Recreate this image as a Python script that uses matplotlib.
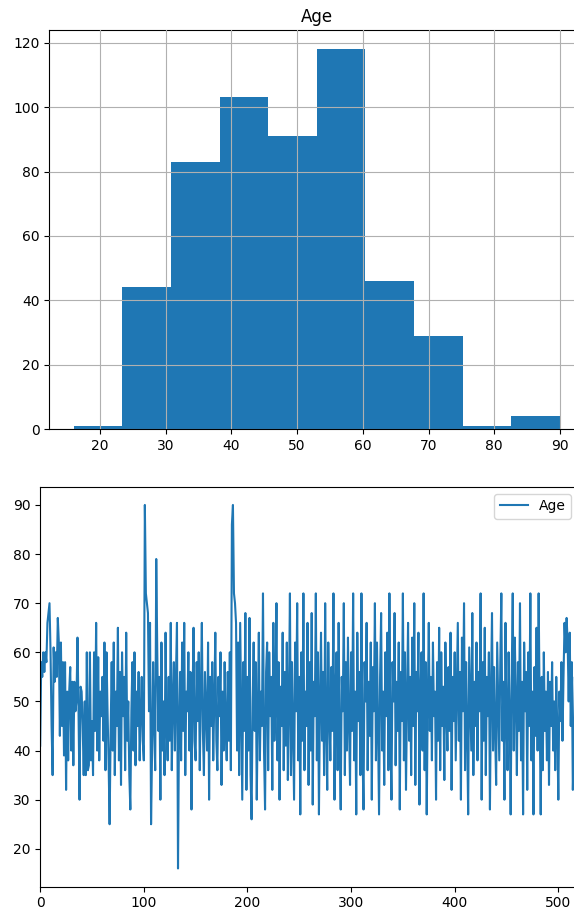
import numpy as np
import matplotlib
matplotlib.use("Agg")
import matplotlib.pyplot as plt

# histogram of Age (10 bins between min and max)
age_min, age_max = 16, 90
hist_counts = [1, 44, 83, 103, 91, 118, 46, 29, 1, 4]

# Age values by row index
age_series = [
    41, 58, 55, 60, 56, 60, 58, 66, 68, 70, 60, 45, 35, 61, 54, 60, 55, 67, 62, 43,
    62, 45, 58, 39, 58, 32, 52, 38, 52, 57, 40, 54, 37, 54, 48, 50, 63, 48, 30, 53,
    52, 45, 35, 50, 35, 60, 36, 37, 60, 38, 46, 35, 60, 44, 66, 40, 59, 38, 52, 47,
    55, 42, 62, 36, 60, 48, 38, 25, 44, 58, 40, 62, 35, 52, 45, 65, 38, 56, 33, 60,
    47, 55, 36, 64, 42, 50, 35, 28, 48, 58, 40, 60, 37, 52, 45, 56, 38, 48, 55, 42,
    38, 90, 72, 70, 68, 48, 66, 25, 40, 58, 45, 36, 79, 60, 44, 55, 30, 62, 40, 50,
    35, 64, 45, 38, 55, 42, 66, 36, 50, 58, 40, 55, 66, 16, 45, 56, 38, 62, 44, 66,
    35, 52, 48, 60, 40, 56, 28, 50, 65, 42, 38, 58, 46, 60, 36, 52, 66, 44, 35, 56,
    48, 40, 62, 30, 55, 45, 58, 38, 50, 64, 42, 36, 55, 47, 60, 33, 52, 40, 58, 45,
    38, 56, 42, 60, 36, 86, 90, 72, 70, 66, 40, 62, 35, 66, 48, 30, 58, 44, 68, 32,
    55, 40, 67, 35, 26, 50, 62, 44, 58, 30, 48, 64, 38, 52, 45, 72, 40, 28, 56, 62,
    36, 60, 47, 55, 32, 66, 42, 50, 70, 38, 58, 30, 53, 45, 64, 36, 56, 41, 62, 34,
    50, 72, 35, 58, 44, 30, 62, 48, 70, 38, 55, 27, 60, 42, 72, 36, 52, 45, 66, 33,
    58, 40, 68, 29, 54, 47, 72, 38, 60, 27, 50, 64, 42, 56, 35, 70, 45, 32, 62, 48,
    38, 57, 44, 72, 30, 52, 60, 36, 66, 42, 28, 55, 48, 70, 35, 58, 40, 63, 46, 33,
    60, 44, 72, 38, 52, 27, 64, 46, 56, 35, 72, 40, 28, 58, 50, 66, 36, 54, 43, 62,
    30, 57, 48, 70, 38, 62, 45, 27, 55, 68, 40, 52, 33, 60, 47, 64, 36, 72, 42, 30,
    58, 50, 68, 37, 54, 44, 62, 28, 56, 46, 72, 38, 60, 32, 50, 66, 42, 55, 35, 63,
    45, 70, 33, 56, 48, 64, 29, 52, 60, 40, 72, 36, 58, 27, 50, 66, 44, 55, 38, 62,
    47, 52, 30, 58, 42, 65, 36, 60, 45, 53, 34, 62, 48, 40, 57, 44, 64, 32, 55, 46,
    60, 38, 52, 66, 42, 56, 30, 63, 48, 70, 36, 58, 44, 27, 61, 50, 40, 68, 35, 54,
    45, 62, 38, 56, 48, 72, 30, 58, 42, 65, 35, 55, 47, 60, 28, 52, 68, 40, 57, 44,
    33, 62, 50, 38, 58, 72, 42, 54, 30, 66, 46, 36, 60, 48, 27, 55, 72, 40, 63, 50,
    35, 58, 44, 70, 38, 54, 27, 62, 48, 56, 32, 60, 45, 72, 38, 52, 27, 57, 43, 65,
    40, 72, 48, 27, 55, 36, 60, 44, 52, 38, 56, 33, 54, 45, 58, 40, 50, 36, 55, 44,
    30, 52, 46, 58, 42, 55, 66, 60, 67, 62, 50, 64, 45, 58, 32, 40, 55, 45, 50, 48,
]

fig = plt.figure(figsize=(5.74, 9.15), dpi=100)

# top: histogram
ax1 = fig.add_axes([0.086, 0.531, 0.932, 0.436])
edges = np.linspace(age_min, age_max, len(hist_counts) + 1)
ax1.hist(edges[:-1], bins=edges, weights=hist_counts, color="#1f77b4")
ax1.grid(True)
ax1.set_axisbelow(False)
ax1.set_title("Age")

# bottom: line plot over the row index
ax2 = fig.add_axes([0.070, 0.031, 0.937, 0.437])
x = np.arange(len(age_series))
ax2.plot(x, age_series, color="#1f77b4", label="Age")
ax2.set_xlim(0, len(age_series) - 1)
ax2.legend(loc="upper right")

fig.savefig("out.png", dpi=100)
